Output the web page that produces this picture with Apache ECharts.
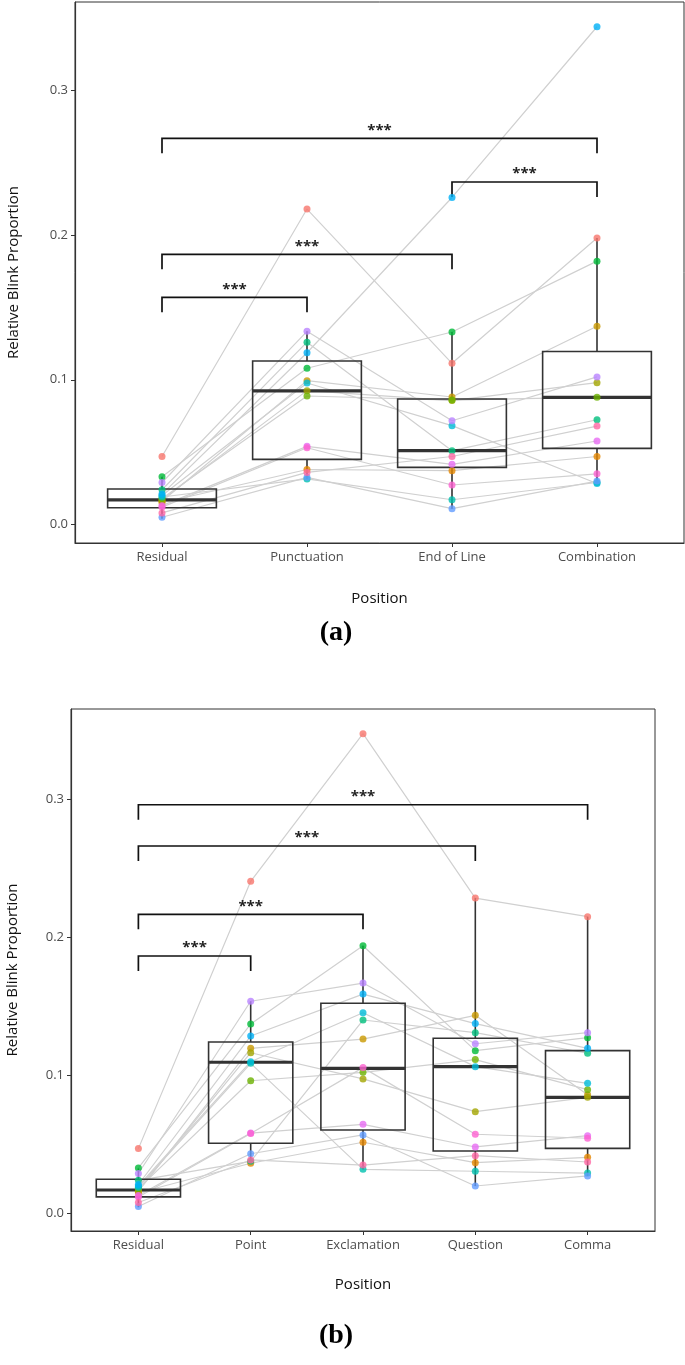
<!DOCTYPE html>
<html style="height: 100%">
<head>
<meta charset="utf-8">
</head>
<body style="height: 100%; margin: 0; background: #fff">
<div id="container" style="width: 685px; height: 1365px"></div>
<script type="text/javascript" src="https://cdn.jsdelivr.net/npm/echarts@6/dist/echarts.min.js"></script>
<script type="text/javascript">
var dom = document.getElementById('container');
var myChart = echarts.init(dom, null, { renderer: 'canvas' });

// one colour per participant (ggplot hue palette, 15 levels)
var participantColors = ['#F8766D', '#E58700', '#C99800', '#A3A500', '#6BB100', '#00BA38', '#00BF7D', '#00C0AF',
    '#00BCD8', '#00B0F6', '#619CFF', '#B983FF', '#E76BF3', '#FD61D1', '#FF67A4'];

// panel (a)
var categoriesA = ['Residual', 'Punctuation', 'End of Line', 'Combination'];
var residual = [0.047, 0.015, 0.016, 0.017, 0.018, 0.033, 0.024, 0.019, 0.020, 0.021, 0.005, 0.029, 0.013, 0.012, 0.008];
var punctuation = [0.218, 0.038, 0.0994, 0.0925, 0.0888, 0.108, 0.126, 0.0315, 0.0978, 0.1187, 0.0326, 0.1335, 0.054, 0.053, 0.036];
var endOfLine = [0.1114, 0.0372, 0.0881, 0.0856, 0.086, 0.133, 0.051, 0.0171, 0.0683, 0.226, 0.0109, 0.0717, 0.0416, 0.0273, 0.047];
var combination = [0.198, 0.047, 0.137, 0.098, 0.088, 0.182, 0.0724, 0.029, 0.0283, 0.344, 0.030, 0.102, 0.0577, 0.035, 0.068];

var boxLowA = [0.004, 0.0315, 0.0109, 0.0283];
var boxQ1A = [0.0116, 0.045, 0.0395, 0.0526];
var boxMedA = [0.017, 0.0924, 0.051, 0.0878];
var boxQ3A = [0.0245, 0.113, 0.0867, 0.1195];
var boxHighA = [0.033, 0.1335, 0.133, 0.198];

var bracketFromA = [1, 1, 3, 1];
var bracketToA = [2, 3, 4, 4];
var bracketYA = [0.157, 0.1867, 0.2367, 0.2669];

// panel (b)
var categoriesB = ['Residual', 'Point', 'Exclamation', 'Question', 'Comma'];
var point = [0.2407, 0.0364, 0.1197, 0.1165, 0.0962, 0.1373, 0.0378, 0.1088, 0.110, 0.1286, 0.0433, 0.1538, 0.0583, 0.058, 0.0388];
var exclamation = [0.3477, 0.0516, 0.1264, 0.0975, 0.1023, 0.194, 0.1402, 0.032, 0.1455, 0.159, 0.0569, 0.167, 0.0646, 0.1057, 0.0351];
var question = [0.2286, 0.0368, 0.1436, 0.0738, 0.1115, 0.118, 0.131, 0.0306, 0.1064, 0.1376, 0.0199, 0.123, 0.0482, 0.0574, 0.0419];
var comma = [0.2151, 0.0407, 0.086, 0.0842, 0.0897, 0.1274, 0.1161, 0.0293, 0.0943, 0.1197, 0.0272, 0.131, 0.0564, 0.0545, 0.0373];

var boxLowB = [0.0045, 0.0364, 0.032, 0.0199, 0.0272];
var boxQ1B = [0.012, 0.0509, 0.0605, 0.0453, 0.0472];
var boxMedB = [0.017, 0.1096, 0.1052, 0.1064, 0.0842];
var boxQ3B = [0.0248, 0.1243, 0.1523, 0.127, 0.118];
var boxHighB = [0.0327, 0.1538, 0.194, 0.2286, 0.2151];

var bracketFromB = [1, 1, 1, 1];
var bracketToB = [2, 3, 4, 5];
var bracketYB = [0.1866, 0.2168, 0.2663, 0.2962];

var yTicks = [0, 0.1, 0.2, 0.3];

var FONT = 'Open Sans';

function renderBox(params, api) {
    var x = api.value(0);
    var lo = api.coord([x, api.value(1)]);
    var q1 = api.coord([x, api.value(2)]);
    var md = api.coord([x, api.value(3)]);
    var q3 = api.coord([x, api.value(4)]);
    var hi = api.coord([x, api.value(5)]);
    var half = api.size([0.75, 0])[0] / 2;
    var st = { stroke: '#333', lineWidth: 1.6, fill: 'none' };
    return {
        type: 'group',
        children: [
            { type: 'line', shape: { x1: hi[0], y1: hi[1], x2: q3[0], y2: q3[1] }, style: st },
            { type: 'line', shape: { x1: q1[0], y1: q1[1], x2: lo[0], y2: lo[1] }, style: st },
            { type: 'rect', shape: { x: q3[0] - half, y: q3[1], width: half * 2, height: q1[1] - q3[1] }, style: st },
            { type: 'line', shape: { x1: md[0] - half, y1: md[1], x2: md[0] + half, y2: md[1] }, style: { stroke: '#333', lineWidth: 3.2 } }
        ]
    };
}

function renderBracket(params, api) {
    var a = api.coord([api.value(0), api.value(2)]);
    var b = api.coord([api.value(1), api.value(2)]);
    var tip = 15;
    return {
        type: 'group',
        children: [
            {
                type: 'polyline',
                shape: { points: [[a[0], a[1] + tip], [a[0], a[1]], [b[0], a[1]], [b[0], a[1] + tip]] },
                style: { stroke: '#111', lineWidth: 1.7, fill: 'none' }
            },
            {
                type: 'text',
                x: (a[0] + b[0]) / 2,
                y: a[1] - 8,
                style: { text: '***', align: 'center', verticalAlign: 'middle', fontSize: 15, fontWeight: 'bold', fontFamily: FONT, fill: '#222' }
            }
        ]
    };
}

function buildPanel(idx, cats, columns, boxLow, boxQ1, boxMed, boxQ3, boxHigh, bFrom, bTo, bY) {
    var series = [];
    participantColors.forEach(function (c, i) {
        series.push({
            type: 'line',
            xAxisIndex: idx, yAxisIndex: idx,
            data: columns.map(function (col, j) { return [j + 1, col[i]]; }),
            symbol: 'none',
            lineStyle: { color: '#d0d0d0', width: 1.2 },
            silent: true,
            z: 1
        });
    });
    series.push({
        type: 'custom',
        xAxisIndex: idx, yAxisIndex: idx,
        renderItem: renderBox,
        data: cats.map(function (c, j) { return [j + 1, boxLow[j], boxQ1[j], boxMed[j], boxQ3[j], boxHigh[j]]; }),
        encode: { x: 0, y: [1, 2, 3, 4, 5] },
        silent: true,
        z: 2
    });
    var pts = [];
    columns.forEach(function (col, j) {
        col.forEach(function (v, i) {
            pts.push({ value: [j + 1, v], itemStyle: { color: participantColors[i] } });
        });
    });
    series.push({
        type: 'scatter',
        xAxisIndex: idx, yAxisIndex: idx,
        symbolSize: 7,
        data: pts,
        silent: true,
        z: 3
    });
    series.push({
        type: 'custom',
        xAxisIndex: idx, yAxisIndex: idx,
        renderItem: renderBracket,
        data: bY.map(function (y, k) { return [bFrom[k], bTo[k], y]; }),
        encode: { x: [0, 1], y: 2 },
        silent: true,
        z: 2
    });
    return series;
}

function xAxisFor(idx, cats, nameGap) {
    var ticks = cats.map(function (c, j) { return j + 1; });
    return {
        type: 'value',
        gridIndex: idx,
        min: 0.4,
        max: cats.length + 0.6,
        name: 'Position',
        nameLocation: 'middle',
        nameGap: nameGap,
        nameTextStyle: { color: '#111', fontSize: 15, fontFamily: FONT },
        axisLine: { show: true, onZero: false, lineStyle: { color: '#333', width: 1.2 } },
        axisTick: { show: true, customValues: ticks, length: 4, lineStyle: { color: '#333' } },
        axisLabel: {
            customValues: ticks,
            formatter: function (v) { return cats[Math.round(v) - 1]; },
            color: '#4d4d4d', fontSize: 13, fontFamily: FONT, margin: 8
        },
        splitLine: { show: false }
    };
}

function yAxisFor(idx, min, max, nameGap) {
    return {
        type: 'value',
        gridIndex: idx,
        min: min,
        max: max,
        name: 'Relative Blink Proportion',
        nameLocation: 'middle',
        nameGap: nameGap,
        nameTextStyle: { color: '#111', fontSize: 15, fontFamily: FONT },
        axisLine: { show: true, onZero: false, lineStyle: { color: '#333', width: 1.2 } },
        axisTick: { show: true, customValues: yTicks, length: 4, lineStyle: { color: '#333' } },
        axisLabel: {
            customValues: yTicks,
            formatter: function (v) { return v.toFixed(1); },
            color: '#4d4d4d', fontSize: 13, fontFamily: FONT, margin: 7
        },
        splitLine: { show: false }
    };
}

var option = {
    animation: false,
    backgroundColor: '#fff',
    grid: [
        { left: 75, top: 2, width: 609, height: 541, show: true, borderColor: '#333', borderWidth: 1, outerBoundsMode: 'none' },
        { left: 71, top: 709, width: 584, height: 522, show: true, borderColor: '#333', borderWidth: 1, outerBoundsMode: 'none' }
    ],
    xAxis: [xAxisFor(0, categoriesA, 48), xAxisFor(1, categoriesB, 46)],
    yAxis: [yAxisFor(0, -0.0128, 0.3611, 54), yAxisFor(1, -0.0127, 0.3656, 51)],
    graphic: [
        { type: 'text', x: 336, y: 633, style: { text: '(a)', align: 'center', verticalAlign: 'middle', fontSize: 28, fontWeight: 'bold', fontFamily: 'Liberation Serif', fill: '#000' } },
        { type: 'text', x: 336, y: 1336, style: { text: '(b)', align: 'center', verticalAlign: 'middle', fontSize: 28, fontWeight: 'bold', fontFamily: 'Liberation Serif', fill: '#000' } }
    ],
    series: buildPanel(0, categoriesA, [residual, punctuation, endOfLine, combination],
            boxLowA, boxQ1A, boxMedA, boxQ3A, boxHighA, bracketFromA, bracketToA, bracketYA)
        .concat(buildPanel(1, categoriesB, [residual, point, exclamation, question, comma],
            boxLowB, boxQ1B, boxMedB, boxQ3B, boxHighB, bracketFromB, bracketToB, bracketYB))
};

if (option && typeof option === 'object') {
    myChart.setOption(option);
}
</script>
</body>
</html>
